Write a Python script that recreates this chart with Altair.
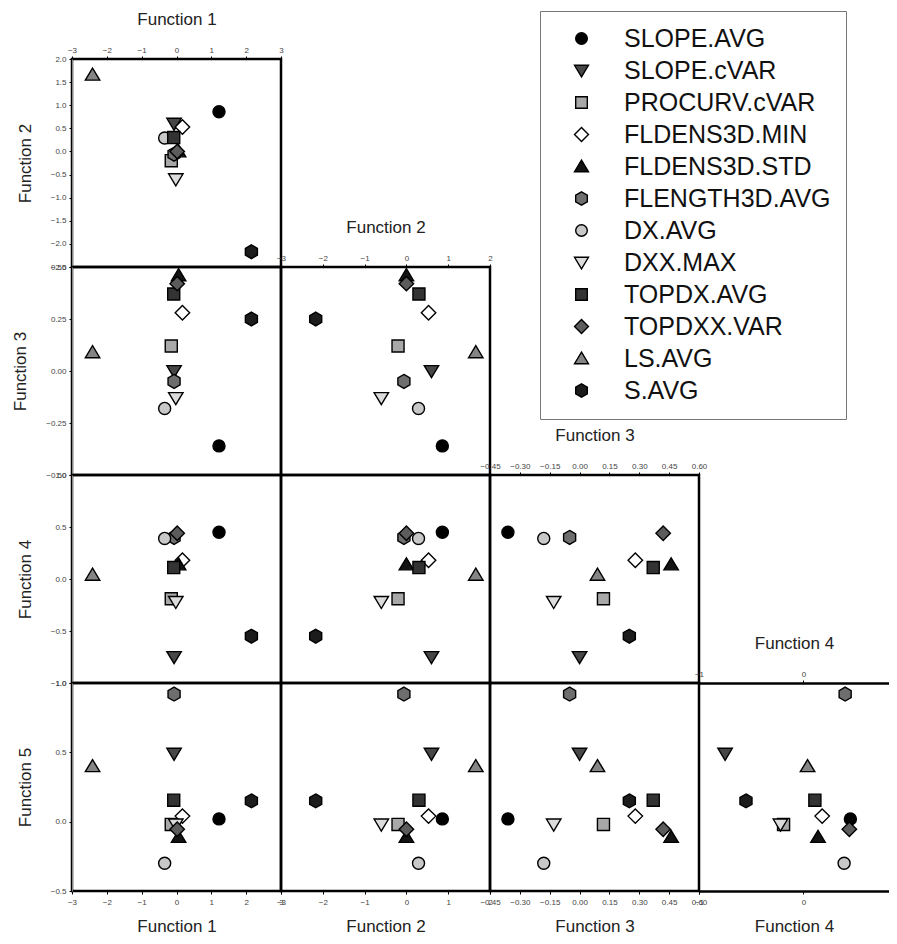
import altair as alt
import pandas as pd

variables = ["SLOPE.AVG", "SLOPE.cVAR", "PROCURV.cVAR", "FLDENS3D.MIN", "FLDENS3D.STD",
             "FLENGTH3D.AVG", "DX.AVG", "DXX.MAX", "TOPDX.AVG", "TOPDXX.VAR", "LS.AVG", "S.AVG"]
f1 = [1.22, -0.07, -0.15, 0.17, 0.06, -0.07, -0.34, -0.02, -0.08, 0.02, -2.41, 2.15]
f2 = [0.86, 0.60, -0.20, 0.53, 0.00, -0.06, 0.29, -0.60, 0.30, 0.00, 1.66, -2.17]
f3 = [-0.36, 0.00, 0.12, 0.28, 0.46, -0.05, -0.18, -0.13, 0.37, 0.42, 0.09, 0.25]
f4 = [0.45, -0.75, -0.19, 0.18, 0.14, 0.40, 0.39, -0.22, 0.11, 0.44, 0.04, -0.55]
f5 = [0.02, 0.49, -0.02, 0.04, -0.11, 0.92, -0.30, -0.02, 0.155, -0.055, 0.40, 0.15]

fill_colors = ["#000000", "#474747", "#a8a8a8", "#ffffff", "#141414", "#6e6e6e",
               "#c8c8c8", "#dcdcdc", "#333333", "#5c5c5c", "#858585", "#1c1c1c"]
stroke_colors = ["#000000"] * 12
hexagon = "M0,-1.15L1,-0.575L1,0.575L0,1.15L-1,0.575L-1,-0.575Z"
diamond = "M0,-1.2L1.2,0L0,1.2L-1.2,0Z"
tri_up = "M0,-1.1L1.2,0.9L-1.2,0.9Z"
tri_down = "M0,1.1L1.2,-0.9L-1.2,-0.9Z"
shapes = ["circle", tri_down, "square", diamond, tri_up, hexagon,
          "circle", tri_down, "square", diamond, tri_up, hexagon]

x_domains = {1: [-3, 3], 2: [-3, 2], 3: [-0.45, 0.60], 4: [-1, 0.82]}
y_domains = {2: [-2.5, 2.0], 3: [-0.5, 0.5], 4: [-1.0, 1.0], 5: [-0.5, 1.0]}
x_ticks = {1: [-3, -2, -1, 0, 1, 2, 3], 2: [-3, -2, -1, 0, 1, 2],
           3: [-0.45, -0.30, -0.15, 0.0, 0.15, 0.30, 0.45, 0.60], 4: [-1, 0]}
y_ticks = {2: [-2.5, -2.0, -1.5, -1.0, -0.5, 0.0, 0.5, 1.0, 1.5, 2.0],
           3: [-0.50, -0.25, 0.0, 0.25, 0.50],
           4: [-1.0, -0.5, 0.0, 0.5, 1.0],
           5: [-0.5, 0.0, 0.5, 1.0]}
x_formats = {1: "d", 2: "d", 3: ".2f", 4: "d"}
y_formats = {2: ".1f", 3: ".2f", 4: ".1f", 5: ".1f"}

df = pd.DataFrame({"variable": variables, "F1": f1, "F2": f2, "F3": f3, "F4": f4, "F5": f5})

FONT = "Liberation Sans"
col_w = {1: 209, 2: 209, 3: 209, 4: 190}
ROW_H = 208

legend = alt.Legend(
    orient="none", legendX=468, legendY=-48, title=None,
    labelFontSize=25, labelFont=FONT, labelColor="#111111", labelLimit=400,
    symbolSize=135, symbolStrokeWidth=1.4,
    padding=15, rowPadding=6, labelOffset=30, symbolOffset=14,
    strokeColor="#777777", fillColor="white",
)
fill_enc = alt.Fill("variable:N", scale=alt.Scale(domain=variables, range=fill_colors), legend=legend)
shape_enc = alt.Shape("variable:N", scale=alt.Scale(domain=variables, range=shapes), legend=legend)
stroke_enc = alt.Stroke("variable:N", scale=alt.Scale(domain=variables, range=stroke_colors), legend=legend)


def x_axis(c, orient, domain=False):
    return alt.Axis(orient=orient, title=f"Function {c}", values=x_ticks[c], format=x_formats[c],
                    labelPadding=2 if orient == "top" else 4,
                    titlePadding=18 if orient == "top" else 12,
                    domain=domain, domainWidth=2.5, domainColor="black",
                    labelOverlap=False, labelFlush=False)


def y_axis(r):
    return alt.Axis(orient="left", title=f"Function {r}", values=y_ticks[r], format=y_formats[r],
                    labelPadding=3, titlePadding=16, labelOverlap=False, labelFlush=False)


def xs(c):
    return alt.Scale(domain=x_domains[c], nice=False, zero=False)


def ys(r):
    return alt.Scale(domain=y_domains[r], nice=False, zero=False)


def points():
    return alt.Chart(df).mark_point(filled=True, size=145, strokeWidth=1.4, opacity=1)


cells = []
for r in [2, 3, 4, 5]:
    for c in [1, 2, 3, 4]:
        if c > r - 1:
            blank = alt.Chart(df).mark_point(opacity=0).encode(
                x=alt.X("F1:Q", axis=None), y=alt.Y("F2:Q", axis=None)
            ).properties(width=col_w[c], height=ROW_H, view=alt.ViewBackground(strokeOpacity=0))
            cells.append(blank)
            continue
        diag = c == r - 1
        bottom = r == 5
        yax = y_axis(r) if c == 1 else None
        if diag and bottom:
            base = points().encode(
                x=alt.X(f"F{c}:Q", scale=xs(c), axis=x_axis(c, "bottom", domain=True)),
                y=alt.Y(f"F{r}:Q", scale=ys(r), axis=yax),
                fill=fill_enc, shape=shape_enc, stroke=stroke_enc,
            )
            top = alt.Chart(df).mark_point(opacity=0).encode(
                x=alt.X(f"F{c}:Q", scale=xs(c), axis=x_axis(c, "top", domain=True)),
                y=alt.Y(f"F{r}:Q", scale=ys(r), axis=None),
            )
            ch = alt.layer(base, top).resolve_axis(x="independent").properties(
                width=col_w[c], height=ROW_H, view=alt.ViewBackground(strokeOpacity=0))
        else:
            if diag:
                xax = x_axis(c, "top")
            elif bottom:
                xax = x_axis(c, "bottom")
            else:
                xax = None
            ch = points().encode(
                x=alt.X(f"F{c}:Q", scale=xs(c), axis=xax),
                y=alt.Y(f"F{r}:Q", scale=ys(r), axis=yax),
                fill=fill_enc, shape=shape_enc, stroke=stroke_enc,
            ).properties(width=col_w[c], height=ROW_H)
        cells.append(ch)

chart = alt.concat(*cells, columns=4, spacing=0, bounds="flush").resolve_scale(
    fill="shared", shape="shared", stroke="shared"
).properties(
    padding={"left": 2, "top": 0, "right": 0, "bottom": 0}
).configure(font=FONT).configure_view(
    stroke="black", strokeWidth=2.5
).configure_axis(
    labelFontSize=8, labelColor="#444444", labelFont=FONT,
    tickSize=3, tickColor="black", tickWidth=1, grid=False,
    titleFontSize=17, titleFontWeight="normal", titleColor="#222222", titleFont=FONT,
)

chart.save("out.html", embed_options={"renderer": "svg", "actions": False})
